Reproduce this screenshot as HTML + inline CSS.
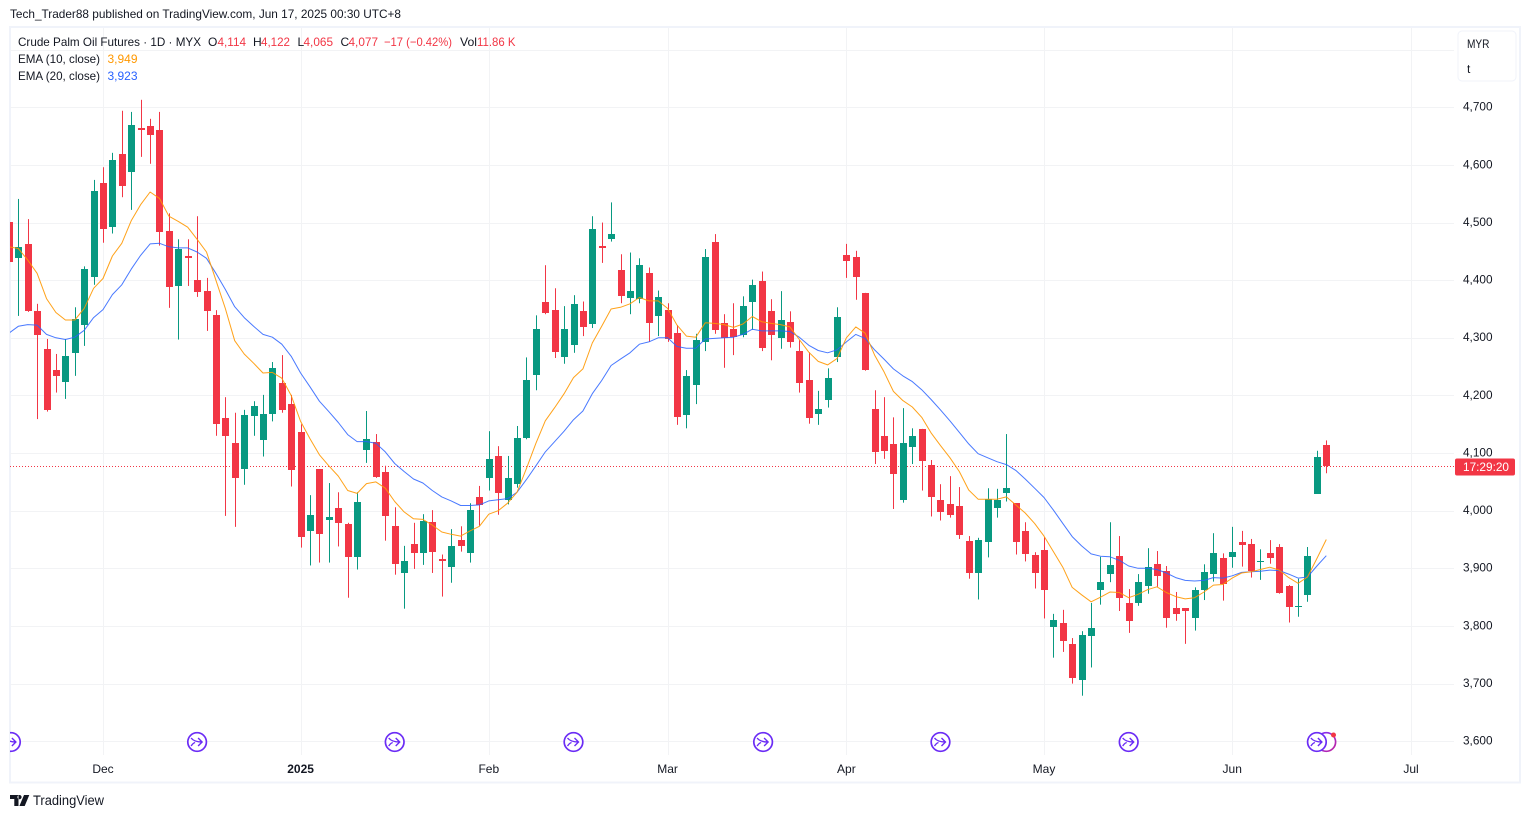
<!DOCTYPE html>
<html lang="en">
<head>
<meta charset="utf-8">
<title>Crude Palm Oil Futures chart</title>
<style>
html,body{margin:0;padding:0;background:#fff;width:1530px;height:818px;overflow:hidden}
svg{display:block;font-family:"Liberation Sans",sans-serif}
text{font-size:12px;fill:#131722}
</style>
</head>
<body>
<svg id="chart" width="1530" height="818" viewBox="0 0 1530 818" xmlns="http://www.w3.org/2000/svg">
  <defs>
    <clipPath id="pane"><rect x="10" y="28" width="1444" height="727"/></clipPath>
    <linearGradient id="mg" x1="0" y1="0" x2="1" y2="1"><stop offset="0" stop-color="#7b2fff"/><stop offset="1" stop-color="#c2259e"/></linearGradient>
  </defs>
  <text x="10" y="18" textLength="391" lengthAdjust="spacingAndGlyphs">Tech_Trader88 published on TradingView.com, Jun 17, 2025 00:30 UTC+8</text>
  <rect x="10" y="27" width="1510" height="755.5" fill="none" stroke="#f0f3fa" stroke-width="2"/>
  <g id="grid"></g>
  <g id="marks" clip-path="url(#pane)"></g>
  <g id="events" clip-path="url(#pane)"></g>
  <g id="yaxis"></g>
  <g id="xaxis"></g>
  <g>
    <text x="18" y="46" textLength="183" lengthAdjust="spacingAndGlyphs">Crude Palm Oil Futures · 1D · MYX</text>
    <text x="208" y="46">O</text>
    <text x="217.5" y="46" style="fill:#f23645" textLength="28.5" lengthAdjust="spacingAndGlyphs">4,114</text>
    <text x="253" y="46">H</text>
    <text x="261" y="46" style="fill:#f23645" textLength="29" lengthAdjust="spacingAndGlyphs">4,122</text>
    <text x="297.5" y="46">L</text>
    <text x="303.5" y="46" style="fill:#f23645" textLength="29.5" lengthAdjust="spacingAndGlyphs">4,065</text>
    <text x="340.5" y="46">C</text>
    <text x="348.5" y="46" style="fill:#f23645" textLength="29.5" lengthAdjust="spacingAndGlyphs">4,077</text>
    <text x="384" y="46" style="fill:#f23645" textLength="68" lengthAdjust="spacingAndGlyphs">−17 (−0.42%)</text>
    <text x="460" y="46" textLength="17" lengthAdjust="spacingAndGlyphs">Vol</text>
    <text x="477" y="46" style="fill:#f23645" textLength="38.5" lengthAdjust="spacingAndGlyphs">11.86 K</text>
    <text x="18" y="63" textLength="82" lengthAdjust="spacingAndGlyphs">EMA (10, close)</text>
    <text x="107.5" y="63" style="fill:#ff9800" textLength="30" lengthAdjust="spacingAndGlyphs">3,949</text>
    <text x="18" y="80" textLength="82" lengthAdjust="spacingAndGlyphs">EMA (20, close)</text>
    <text x="107.5" y="80" style="fill:#2962ff" textLength="30" lengthAdjust="spacingAndGlyphs">3,923</text>
  </g>
  <g>
    <rect x="1458" y="31" width="58" height="50" rx="4" fill="#fff" stroke="#f0f3fa" stroke-width="1"/>
    <text x="1467" y="48" textLength="22.5" lengthAdjust="spacingAndGlyphs">MYR</text>
    <text x="1467" y="73">t</text>
  </g>
  <g>
    <path d="M10 795h8.5v11h-4.2v-7H10z M19.5 799.2a2.1 2.1 0 1 0 0-4.2 2.1 2.1 0 0 0 0 4.2z M24 795h5.3l-4.6 11h-5.3z" fill="#131722"/>
    <text x="33" y="805" style="font-size:13.5px" textLength="71" lengthAdjust="spacingAndGlyphs">TradingView</text>
  </g>
</svg>
<script>
const opens = [4501,4439,4463,4346,4281,4244,4224,4274,4323,4406,4569,4493,4619,4587,4664,4667,4661,4485,4390,4442,4400,4381,4340,4161,4118,4073,4164,4123,4167,4222,4185,4137,3965,4072,3984,4005,3977,3920,4106,4119,4067,3973,3892,3942,3927,3980,3916,3903,3949,3927,4024,4056,4095,4019,4047,4126,4235,4362,4349,4267,4288,4346,4324,4460,4471,4417,4369,4367,4412,4338,4348,4308,4166,4218,4293,4466,4325,4315,4305,4362,4398,4346,4300,4327,4277,4227,4168,4192,4267,4444,4440,4378,4176,4130,4116,4019,4111,4142,4079,4018,4012,4008,3948,3892,3946,4005,4031,4013,3965,3923,3932,3799,3805,3769,3707,3783,3863,3891,3921,3840,3840,3870,3907,3895,3831,3831,3814,3863,3891,3918,3920,3946,3942,3911,3926,3937,3869,3833,3854,4029,4114];
const highs = [4510,4541,4506,4359,4298,4272,4298,4353,4424,4574,4596,4621,4694,4692,4713,4680,4692,4516,4471,4471,4511,4404,4348,4197,4170,4175,4190,4201,4258,4270,4201,4150,4027,4072,4048,4032,3979,4032,4173,4133,4078,4006,3939,3979,3994,4001,3924,3968,3973,4013,4043,4138,4112,4095,4147,4266,4339,4426,4386,4355,4374,4363,4511,4500,4535,4445,4448,4438,4422,4382,4360,4322,4244,4307,4454,4480,4341,4360,4372,4401,4415,4367,4381,4346,4296,4275,4208,4247,4353,4463,4451,4378,4209,4197,4162,4178,4143,4142,4088,4046,4060,4041,3956,3953,4039,4038,4133,4013,3980,3928,3954,3821,3828,3779,3791,3840,3920,3980,3956,3864,3890,3935,3930,3904,3859,3831,3867,3907,3961,3926,3972,3965,3951,3933,3949,3942,3871,3882,3937,4104,4122];
const lows = [4420,4338,4345,4159,4172,4205,4194,4234,4286,4392,4465,4481,4544,4522,4614,4602,4460,4352,4297,4390,4371,4312,4130,3991,3972,4045,4130,4094,4155,4170,4042,3936,3905,3910,3910,3938,3849,3898,4083,4057,3948,3889,3830,3899,3906,3892,3851,3875,3929,3910,3974,4035,3993,4011,4040,4124,4209,4341,4265,4255,4274,4303,4317,4430,4467,4360,4341,4360,4293,4303,4293,4149,4143,4185,4277,4307,4248,4270,4301,4314,4277,4261,4281,4283,4205,4151,4149,4179,4258,4404,4366,4243,4081,4090,4003,4014,4081,4035,3990,3983,3988,3951,3882,3846,3919,3988,4016,3924,3912,3865,3813,3745,3755,3700,3679,3728,3837,3876,3826,3788,3835,3856,3868,3797,3809,3769,3792,3845,3877,3844,3901,3903,3884,3880,3908,3856,3806,3816,3842,4029,4065];
const closes = [4431,4458,4347,4305,4175,4233,4268,4333,4419,4555,4488,4608,4564,4669,4661,4652,4484,4389,4454,4439,4380,4347,4151,4130,4056,4166,4182,4168,4248,4174,4071,3955,3993,3960,3989,3978,3919,4015,4124,4059,3990,3908,3913,3927,3982,3929,3912,3939,3939,4001,4010,4090,4030,4057,4126,4226,4315,4343,4275,4315,4358,4319,4488,4455,4480,4373,4381,4426,4326,4370,4298,4163,4233,4296,4440,4314,4300,4301,4355,4391,4282,4305,4331,4292,4222,4161,4176,4230,4336,4434,4406,4245,4102,4104,4064,4117,4130,4087,4024,3997,3993,3957,3892,3949,4020,4019,4039,3946,3925,3892,3863,3810,3774,3710,3784,3796,3876,3906,3849,3809,3876,3902,3887,3814,3821,3826,3862,3894,3926,3872,3928,3941,3896,3913,3918,3858,3833,3835,3921,4093,4077];
const ema10 = [4458,4455,4435,4412,4368,4344,4331,4331,4351,4386,4403,4442,4464,4503,4531,4553,4542,4511,4502,4492,4471,4449,4400,4351,4295,4272,4256,4239,4240,4230,4200,4155,4125,4097,4078,4060,4035,4030,4047,4050,4039,4016,3998,3986,3985,3975,3963,3959,3956,3965,3973,3994,4000,4013,4032,4073,4117,4156,4179,4203,4231,4246,4291,4320,4350,4353,4359,4370,4364,4364,4351,4322,4303,4301,4326,4325,4323,4318,4324,4337,4328,4325,4323,4319,4297,4275,4259,4253,4264,4300,4319,4308,4270,4241,4207,4191,4180,4162,4135,4113,4092,4068,4036,4020,4020,4020,4024,4010,3996,3978,3956,3929,3902,3867,3854,3842,3850,3859,3858,3849,3855,3863,3868,3858,3851,3847,3849,3859,3871,3872,3883,3892,3894,3898,3902,3897,3884,3874,3885,3917,3950];
const ema20 = [4308,4320,4323,4322,4306,4300,4297,4301,4313,4335,4349,4375,4392,4419,4443,4463,4464,4458,4456,4456,4449,4438,4412,4384,4354,4335,4320,4306,4301,4289,4268,4239,4215,4190,4172,4153,4132,4120,4120,4117,4102,4082,4068,4055,4048,4035,4024,4017,4009,4009,4010,4017,4019,4021,4032,4054,4078,4102,4120,4138,4158,4173,4203,4226,4252,4263,4274,4289,4293,4300,4300,4285,4282,4282,4298,4299,4300,4301,4306,4315,4312,4312,4312,4311,4301,4287,4278,4274,4279,4293,4306,4299,4279,4263,4246,4234,4224,4210,4193,4175,4156,4136,4116,4099,4092,4085,4080,4070,4055,4039,4023,4001,3978,3955,3939,3925,3921,3920,3914,3904,3900,3900,3898,3892,3884,3879,3878,3879,3884,3883,3887,3893,3894,3895,3897,3896,3890,3883,3885,3904,3922];
const priceTicks = [4800,4700,4600,4500,4400,4300,4200,4100,4000,3900,3800,3700,3600];
const priceLabels = ["","4,700","4,600","4,500","4,400","4,300","4,200","4,100","4,000","3,900","3,800","3,700","3,600"];
const timeTickBars = [10,31,51,70,89,110,130,149];
const timeTickLabels = ["Dec","2025","Feb","Mar","Apr","May","Jun","Jul"];
const eventBars = [0,20,41,60,80.15,99,119,139];
const lastPrice = 4077;
const countdown = "17:29:20";

const NS = "http://www.w3.org/2000/svg";
const UP = "#089981", DOWN = "#f23645";
function xAt(i){ return 8.9 + 9.41 * i; }
function yAt(p){ return 107.3 + (4700 - p) * 0.5763; }
function mk(tag, attrs, parent){
  const el = document.createElementNS(NS, tag);
  for (const k in attrs) el.setAttribute(k, attrs[k]);
  parent.appendChild(el);
  return el;
}
const grid = document.getElementById("grid");
const marks = document.getElementById("marks");
const events = document.getElementById("events");
const yaxis = document.getElementById("yaxis");
const xaxis = document.getElementById("xaxis");

priceTicks.forEach(function(p, n){
  const y = Math.round(yAt(p)) + 0.5;
  const line = mk("line", {x1:10, x2:1454, y1:y, y2:y, stroke:"#f2f3f5", "stroke-width":1}, grid);
  
  
  if (priceLabels[n]) {
    const t = mk("text", {x:1463, y:yAt(p) + 3.4, textLength:29.5, lengthAdjust:"spacingAndGlyphs"}, yaxis);
    t.textContent = priceLabels[n];
    
    
  }
});
timeTickBars.forEach(function(b, n){
  const x = Math.round(xAt(b)) + 0.5;
  const line = mk("line", {x1:x, x2:x, y1:28, y2:755, stroke:"#f2f3f5", "stroke-width":1}, grid);
  
  
  const t = mk("text", {x:xAt(b), y:773, "text-anchor":"middle"}, xaxis);
  t.textContent = timeTickLabels[n];
  if (timeTickLabels[n] === "2025") t.setAttribute("style", "font-weight:bold");
  
  
});

const lastY = Math.round(yAt(lastPrice)) + 0.5;
const priceLine = mk("line", {x1:10, x2:1454, y1:lastY, y2:lastY, stroke:DOWN, "stroke-width":1, "stroke-dasharray":"1 2"}, marks);



opens.forEach(function(o, i){
  const c = closes[i];
  const col = c >= o ? UP : DOWN;
  const cx = Math.round(xAt(i));
  const g = mk("g", {}, marks);
  
  
  const top = Math.round(yAt(Math.max(o, c)));
  const bot = Math.round(yAt(Math.min(o, c)));
  mk("rect", {x:cx, y:yAt(highs[i]), width:1, height:Math.max(0, yAt(lows[i]) - yAt(highs[i])), fill:col}, g);
  mk("rect", {x:cx - 3, y:top, width:7, height:Math.max(1, bot - top), fill:col}, g);
});

function linePath(values){
  return values.map(function(v, i){ return xAt(i).toFixed(1) + "," + yAt(v).toFixed(1); }).join(" ");
}
const emaSlow = mk("polyline", {points:linePath(ema20), fill:"none", stroke:"#2962ff", "stroke-width":1, "stroke-opacity":0.85, "stroke-linejoin":"round"}, marks);


const emaFast = mk("polyline", {points:linePath(ema10), fill:"none", stroke:"#ff9800", "stroke-width":1, "stroke-opacity":0.9, "stroke-linejoin":"round"}, marks);



function drawEvent(cx, cy, stroke, withArrow){
  const g = mk("g", {}, events);
  
  
  mk("circle", {cx:cx, cy:cy, r:9.3, fill:"#fff", stroke:stroke, "stroke-width":1.7}, g);
  if (withArrow) {
    mk("path", {d:"M"+(cx-6)+" "+(cy-4)+"Q"+(cx-3)+" "+cy+" "+(cx+5)+" "+cy+"M"+(cx+1)+" "+(cy-4)+"L"+(cx+5)+" "+cy+"L"+(cx+1)+" "+(cy+4)+"M"+(cx-6)+" "+(cy+4)+"Q"+(cx-4)+" "+(cy+1)+" "+(cx-2)+" "+(cy+0.5), fill:"none", stroke:stroke, "stroke-width":1.4}, g);
  }
}
const lastBar = 140;
drawEvent(xAt(lastBar), 742, "url(#mg)", false);
eventBars.forEach(function(b){ drawEvent(xAt(b) + (b === 0 ? 2 : 0), 742, "#6b2cf5", true); });
const dot = mk("circle", {cx:1333.5, cy:735, r:2.5, fill:DOWN}, events);



const tagBox = mk("rect", {x:1455, y:lastY - 8, width:60, height:17, rx:2, fill:DOWN}, yaxis);


const tagText = mk("text", {x:1463, y:lastY + 4.5, style:"fill:#fff", textLength:46, lengthAdjust:"spacingAndGlyphs"}, yaxis);
tagText.textContent = countdown;


</script>
</body>
</html>
